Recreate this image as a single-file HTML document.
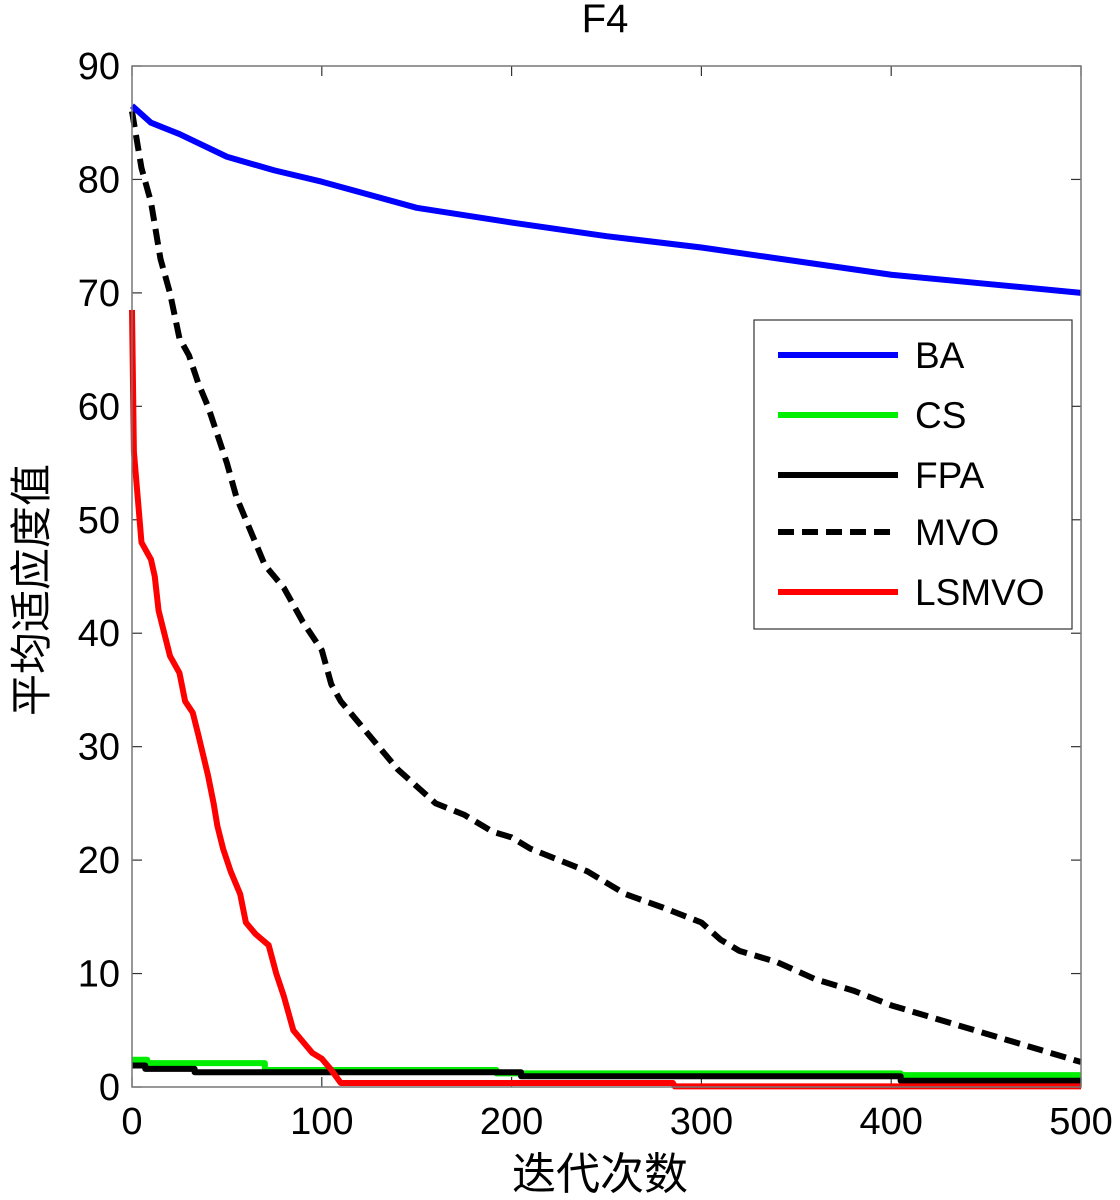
<!DOCTYPE html>
<html><head><meta charset="utf-8"><style>
body{margin:0;background:#fff;}
svg{display:block;font-family:"Liberation Sans","Noto Sans CJK SC",sans-serif;}
</style></head><body>
<svg id="chart" width="1120" height="1200" viewBox="0 0 1120 1200" xmlns="http://www.w3.org/2000/svg">
<rect width="1120" height="1200" fill="#fff"/>
<text x="605" y="32" font-size="40" style="font-size:40px" text-anchor="middle">F4</text>
<text transform="translate(46,590) rotate(-90)" style="font-size:42px" text-anchor="middle" font-family="Noto Sans CJK SC, sans-serif">平均适应度值</text>
<text x="600" y="1189" style="font-size:44px" text-anchor="middle" font-family="Noto Sans CJK SC, sans-serif">迭代次数</text>
<g id="ticks"></g>
<g id="series"></g>
<rect x="132" y="66" width="949" height="1021" fill="none" stroke="#777" stroke-width="1.5"/>
<g>
<rect x="754" y="320" width="318" height="309" fill="#fff" stroke="#333" stroke-width="1.2"/>
<g id="legend-items"></g>
</g>
</svg>
<script>
const xTicks=[0,100,200,300,400,500];
const yTicks=[0,10,20,30,40,50,60,70,80,90];
const seriesNames=["BA","CS","FPA","MVO","LSMVO"];
const baIter=[0,10,25,50,75,100,150,200,250,300,350,400,450,500];
const baVal=[86.5,85,84,82,80.8,79.8,77.5,76.2,75,74,72.8,71.6,70.8,70];
const mvoIter=[0,5,10,15,20,25,30,35,40,45,50,55,60,65,70,80,90,100,105,110,120,130,140,150,160,175,190,200,210,225,240,250,260,280,300,310,320,340,360,380,400,420,440,460,480,500];
const mvoVal=[86,81,78,73,70,66,64.5,62,60,57.5,55,52,50,48,46,44,41,38.5,35.5,34,32,30,28,26.5,25,24,22.5,22,21,20,19,18,17,15.8,14.5,13,12,11,9.5,8.5,7.2,6.2,5.2,4.2,3.2,2.2];
const lsIter=[0,1,3,5,10,12,14,17,20,25,28,32,35,40,43,45,48,52,57,60,65,72,76,80,85,90,95,100,105,110,285,286,500];
const lsVal=[68.5,56,52,48,46.5,45,42,40,38,36.5,34,33,31,27.5,25,23,21,19,17,14.5,13.5,12.5,10,8,5,4,3,2.5,1.5,0.35,0.35,0.05,0.05];
const csIter=[0,8,70,192,405,500];
const csVal=[2.4,2.1,1.5,1.2,1.05,1.05];
const fpaIter=[0,7,33,205,405,500];
const fpaVal=[1.9,1.6,1.3,0.95,0.55,0.55];

const X0=132,X1=1081,Y0=1087,Y1=66;
const xs=v=>X0+(v/500)*(X1-X0);
const ys=v=>Y0-(v/90)*(Y0-Y1);
const NS="http://www.w3.org/2000/svg";
function mk(tag,attrs,parent){const e=document.createElementNS(NS,tag);for(const k in attrs)e.setAttribute(k,attrs[k]);parent.appendChild(e);return e;}
const tg=document.getElementById('ticks');
xTicks.forEach(t=>{
  const x=xs(t);
  const l1=mk('line',{x1:x,y1:Y0,x2:x,y2:Y0-10,stroke:'#333','stroke-width':1.2},tg);
  
  
  const l2=mk('line',{x1:x,y1:Y1,x2:x,y2:Y1+10,stroke:'#333','stroke-width':1.2},tg);
  
  
  const tx=mk('text',{x:x,y:1134,'text-anchor':'middle',style:'font-size:38px'},tg);
  tx.textContent=t;
  
  
});
yTicks.forEach(t=>{
  const y=ys(t);
  const l1=mk('line',{x1:X0,y1:y,x2:X0+10,y2:y,stroke:'#333','stroke-width':1.2},tg);
  
  
  const l2=mk('line',{x1:X1,y1:y,x2:X1-10,y2:y,stroke:'#333','stroke-width':1.2},tg);
  
  
  const tx=mk('text',{x:120,y:y+13,'text-anchor':'end',style:'font-size:38px'},tg);
  tx.textContent=t;
  
  
});
const sg=document.getElementById('series');
function line(it,vals,color,dash,name,step){
  let pts=[];
  for(let i=0;i<it.length;i++){
    if(step&&i>0)pts.push(xs(it[i])+','+ys(vals[i-1]));
    pts.push(xs(it[i])+','+ys(vals[i]));
  }
  const p=mk('polyline',{points:pts.join(' '),fill:'none',stroke:color,'stroke-width':6,'stroke-linejoin':'round'},sg);
  if(dash)p.setAttribute('stroke-dasharray','16 8');
  
  
}
line(csIter,csVal,'#00ee00',false,'cs-line',true);
line(fpaIter,fpaVal,'#000',false,'fpa-line',true);
line(lsIter,lsVal,'#ff0000',false,'lsmvo-line',false);
line(mvoIter,mvoVal,'#000',true,'mvo-line',false);
line(baIter,baVal,'#0000ff',false,'ba-line',false);
const lg=document.getElementById('legend-items');
const colors=['#0000ff','#00ee00','#000','#000','#ff0000'];
const ly=[355,415,475,532,592];
seriesNames.forEach((n,i)=>{
  const l=mk('line',{x1:778,y1:ly[i],x2:898,y2:ly[i],stroke:colors[i],'stroke-width':6},lg);
  if(n==='MVO')l.setAttribute('stroke-dasharray','16 8');
  
  
  const t=mk('text',{x:915,y:ly[i]+13,style:'font-size:37px'},lg);
  t.textContent=n;
  
  
});
</script>
</body></html>
